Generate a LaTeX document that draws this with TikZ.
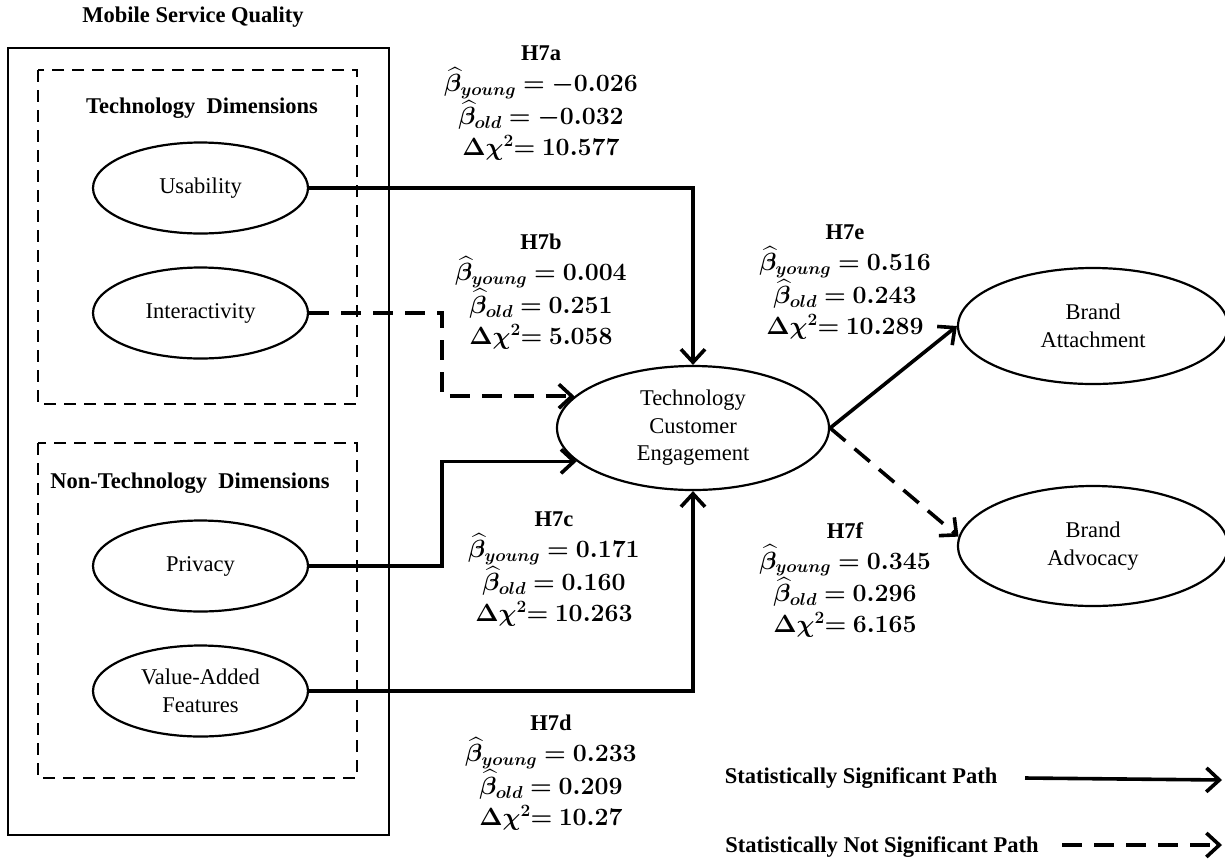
\documentclass[tikz,border=0pt]{standalone}
\usepackage{amsmath}
\usepackage{fontspec}
\setmainfont{Liberation Serif}
\usepackage{bm}
\usetikzlibrary{shapes.geometric,arrows.meta}
\newcommand\hlab[4]{{\fontsize{22.5}{31}\selectfont\textbf{#1}}\\ $\bm{\widehat{\beta}_{young} = #2}$\\ $\bm{\widehat{\beta}_{old} = #3}$\\ $\bm{\Delta\chi^{2}{=}\ #4}$}
\tikzset{
  lat/.style={ellipse, draw, line width=2.2pt, inner sep=0pt, align=center,
    font=\fontsize{22.5}{27.5}\selectfont},
  smallat/.style={lat, minimum width=215pt, minimum height=91pt},
  bigat/.style={lat, minimum width=272pt, minimum height=124pt},
  ttl/.style={font=\fontsize{22.5}{27}\selectfont\bfseries, inner sep=0pt},
  hbox/.style={align=center, anchor=north, inner sep=0pt, font=\fontsize{25}{31}\selectfont},
  tip/.style={-{Straight Barb[length=13pt,width=24pt]}},
  conn/.style={line width=3.6pt, tip},
  dconn/.style={conn, dash pattern=on 20pt off 12pt},
  dbox/.style={line width=2pt, dash pattern=on 12pt off 8pt},
}
\begin{document}
\begin{tikzpicture}[x=1pt,y=-1pt]
\useasboundingbox[fill=white] (0,0) rectangle (1225,863);

% frames
\draw[line width=2pt] (8,48) rectangle (389,835);
\draw[dbox] (38,70) rectangle (357,404);
\draw[dbox] (38,443) rectangle (357,778);

\node[ttl] (msq) at (193,17) {Mobile Service Quality};
\node[ttl] (tdim) at (202,108) {Technology\ \ Dimensions};
\node[ttl] (ntdim) at (190,483) {Non-Technology\ \ Dimensions};

% latent variables
\node[smallat] (use) at (200.5,188) {Usability};
\node[smallat] (int) at (200.5,313) {Interactivity};
\node[smallat] (priv) at (200.5,566) {Privacy};
\node[smallat] (vaf) at (200.5,691) {Value-Added\\Features};
\node[bigat] (tce) at (693,428) {Technology\\Customer\\Engagement};
\node[lat, minimum width=270pt, minimum height=116pt] (ba) at (1093,326) {Brand\\Attachment};
\node[lat, minimum width=270pt, minimum height=120pt] (bv) at (1093,546) {Brand\\Advocacy};

% connectors
\coordinate (kx) at (442,0);
\draw[conn] (use.east) -| (tce.north);
\draw[dconn] (int.east) -- (int.east -| kx) |- (tce.165);
\draw[conn] (priv.east) -- (priv.east -| kx) |- (tce.196);
\draw[conn] (vaf.east) -| (tce.south);
\draw[conn] (tce.east) -- (ba.west);
\draw[dconn] (tce.east) -- (bv.176);

% path labels
\node[hbox] (la) at (541,46) {\hlab{H7a}{-0.026}{-0.032}{10.577}};
\node[hbox] (lb) at (541,234) {\hlab{H7b}{0.004}{0.251}{5.058}};
\node[hbox] (lc) at (554,512) {\hlab{H7c}{0.171}{0.160}{10.263}};
\node[hbox] (ld) at (551,715) {\hlab{H7d}{0.233}{0.209}{10.27}};
\node[hbox] (le) at (845,225) {\hlab{H7e}{0.516}{0.243}{10.289}};
\node[hbox] (lf) at (845,522) {\hlab{H7f}{0.345}{0.296}{6.165}};

% legend
\node[ttl] (lg1) at (861,778) {Statistically Significant Path};
\node[ttl] (lg2) at (882,847) {Statistically Not Significant Path};
\coordinate (lge1) at (1222,780);
\coordinate (lge2) at (1222,845);
\draw[conn] (lg1.east -| 1025,0) -- (lge1);
\draw[dconn] (1062,845) -- (lge2);
\end{tikzpicture}
\end{document}
